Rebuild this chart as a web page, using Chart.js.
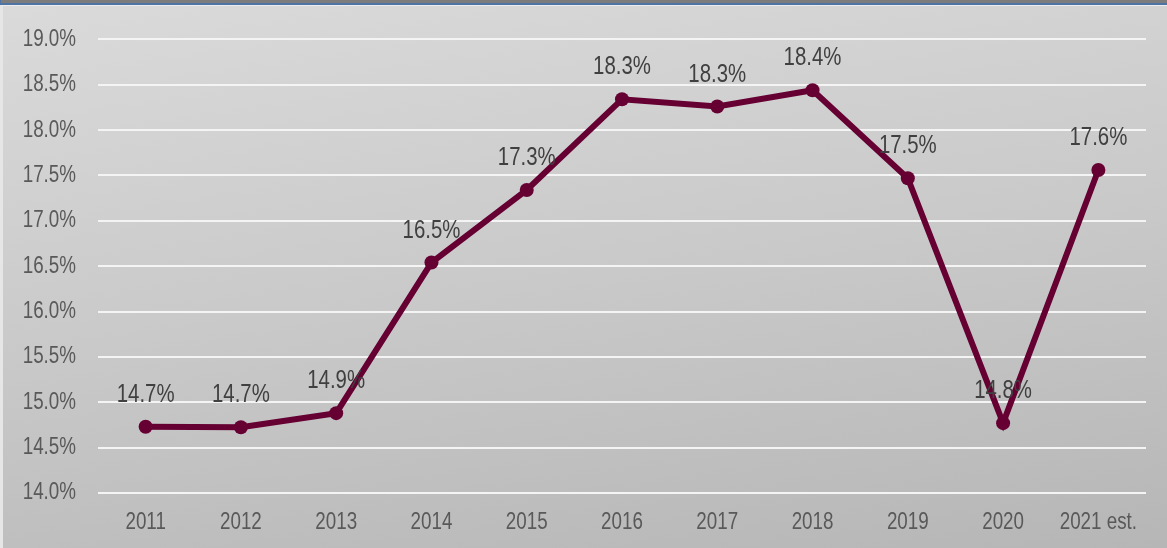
<!DOCTYPE html>
<html>
<head>
<meta charset="utf-8">
<script src="https://cdn.jsdelivr.net/npm/chart.js@4"></script>
<style>
  html, body { margin: 0; padding: 0; }
  body { width: 1167px; height: 548px; overflow: hidden; position: relative; background: #d0d0d0; }
  #topband { position: absolute; left: 0; top: 0; width: 1167px; height: 3px; background: #7c7c7c; border-left: 1px solid #4e74a6; box-sizing: border-box; }
  #blueline { position: absolute; left: 0; top: 3px; width: 1167px; height: 2px; background: #4e74a6; }
  #frame { position: absolute; left: 0; top: 5px; width: 1167px; height: 543px; box-sizing: border-box;
           border-top: 1px solid #ececec; border-left: 3px solid #e6e6e6;
           background: linear-gradient(172deg, #dadada 0%, #c9c9c9 50%, #b6b6b6 100%); }
  #wrap { position: absolute; left: 0; top: 0; width: 1164px; height: 542px; }
</style>
</head>
<body>
<div id="topband"></div>
<div id="blueline"></div>
<div id="frame">
  <div id="wrap"><canvas id="rateChart"></canvas></div>
</div>
<script>
const years = ['2011', '2012', '2013', '2014', '2015', '2016', '2017', '2018', '2019', '2020', '2021 est.'];
const rates = [14.73, 14.725, 14.88, 16.54, 17.34, 18.34, 18.26, 18.44, 17.47, 14.77, 17.56];
const yTicks = [14.0, 14.5, 15.0, 15.5, 16.0, 16.5, 17.0, 17.5, 18.0, 18.5, 19.0];

const fontFamily = "'Liberation Sans', Arial, sans-serif";
const lineColor = '#660033';
const squeeze = 0.8; // the original text is a narrow face

function narrowText(ctx, text, x, y, align, size, color) {
    ctx.save();
    ctx.translate(x, y);
    ctx.scale(squeeze, 1);
    ctx.font = size + 'px ' + fontFamily;
    ctx.fillStyle = color;
    ctx.textAlign = align;
    ctx.textBaseline = 'middle';
    ctx.fillText(text, 0, 0);
    ctx.restore();
}

// axis labels and value labels, drawn narrow
const narrowLabels = {
    id: 'narrowLabels',
    afterDraw(chart) {
        const ctx = chart.ctx;
        const xs = chart.scales.x;
        const ys = chart.scales.y;
        ys.ticks.forEach(t => {
            narrowText(ctx, t.value.toFixed(1) + '%', ys.right - 22, ys.getPixelForValue(t.value), 'right', 23.5, '#595959');
        });
        years.forEach((y, i) => {
            narrowText(ctx, y, xs.getPixelForValue(i), chart.chartArea.bottom + 30, 'center', 23.5, '#595959');
        });
        chart.getDatasetMeta(0).data.forEach((pt, i) => {
            narrowText(ctx, rates[i].toFixed(1) + '%', pt.x, pt.y - 32, 'center', 25.5, '#404040');
        });
    }
};

const ctx = document.getElementById('rateChart').getContext('2d');
const rateChart = new Chart(ctx, {
    type: 'line',
    plugins: [narrowLabels],
    data: {
        labels: years,
        datasets: [{
            data: rates,
            borderColor: lineColor,
            backgroundColor: lineColor,
            borderWidth: 6,
            pointRadius: 7,
            pointHoverRadius: 7,
            pointBackgroundColor: lineColor,
            pointBorderWidth: 0,
            tension: 0,
        }]
    },
    options: {
        responsive: true,
        maintainAspectRatio: false,
        animation: false,
        layout: {
            padding: { top: 26, right: 21, left: 0, bottom: 0 }
        },
        plugins: {
            legend: { display: false },
            tooltip: { enabled: false },
        },
        scales: {
            x: {
                offset: true,
                grid: { display: false, drawTicks: false },
                border: { display: false },
                ticks: {
                    color: 'rgba(0,0,0,0)',
                    font: { family: fontFamily, size: 19 },
                    padding: 16,
                    maxRotation: 0,
                    autoSkip: false,
                },
                afterFit(scale) { scale.height = 55; }
            },
            y: {
                min: 14.0,
                max: 19.0,
                afterBuildTicks(scale) { scale.ticks = yTicks.map(v => ({ value: v })); },
                grid: { color: '#f4f4f4', lineWidth: 2, drawTicks: false },
                border: { display: false },
                ticks: {
                    color: 'rgba(0,0,0,0)',
                    font: { family: fontFamily, size: 19 },
                    padding: 22,
                    callback: v => v.toFixed(1) + '%',
                },
                afterFit(scale) { scale.width = 95; }
            }
        }
    }
});
</script>
</body>
</html>
